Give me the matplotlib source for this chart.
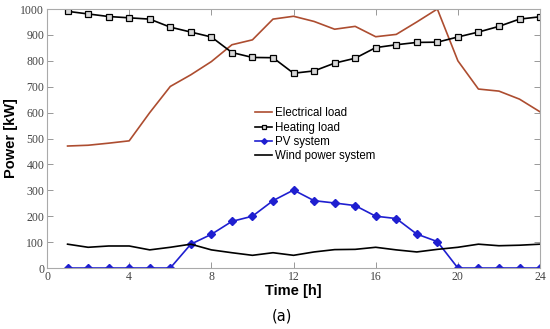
import matplotlib
matplotlib.use("Agg")
import matplotlib.pyplot as plt

# hourly data
hours = list(range(1, 25))
electrical_load = [471, 474, 482, 491, 600, 701, 746, 797, 862, 881, 961, 972,
                   952, 922, 933, 893, 902, 950, 1000, 800, 691, 683, 652, 603]
heating_load = [991, 981, 971, 966, 961, 930, 911, 892, 832, 813, 812, 752,
                761, 791, 810, 851, 862, 871, 872, 892, 911, 933, 961, 970]
pv_system = [0, 0, 0, 0, 0, 0, 92, 130, 180, 200, 260, 301,
             260, 251, 241, 200, 191, 131, 102, 0, 0, 0, 0, 0]
wind_power = [92, 80, 85, 85, 70, 80, 92, 70, 59, 49, 59, 49,
              62, 71, 72, 80, 70, 62, 72, 80, 92, 86, 88, 92]

x_ticks = [0, 4, 8, 12, 16, 20, 24]
y_ticks = list(range(0, 1001, 100))

fig = plt.figure(figsize=(5.5, 3.29), dpi=100)
ax = fig.add_axes([0.0855, 0.1854, 0.8964, 0.7872])

ax.plot(hours, electrical_load, color='#ad4d30', lw=1.2, label='Electrical load')
ax.plot(hours, heating_load, color='black', lw=1.2, marker='s', ms=4,
        mfc='#d8d8d8', mec='black', mew=0.9, label='Heating load')
ax.plot(hours, pv_system, color='#1f1fd0', lw=1.2, marker='D', ms=3.6,
        mfc='#1f1fd0', mec='#1f1fd0', label='PV system')
ax.plot(hours, wind_power, color='black', lw=1.2, label='Wind power system')

ax.set_xlim(0, 24)
ax.set_ylim(0, 1000)
ax.set_xticks(x_ticks)
ax.set_yticks(y_ticks)
ax.tick_params(direction='in', length=4, width=0.6, color='#888888',
               labelcolor='#444444', labelsize=8.5, pad=2,
               top=True, right=True)
for lbl in ax.get_xticklabels() + ax.get_yticklabels():
    lbl.set_family('Liberation Serif')
for s in ax.spines.values():
    s.set_color('#aaaaaa')
    s.set_linewidth(0.8)

ax.set_xlabel('Time [h]', fontsize=10.5, fontweight='bold', family='Liberation Sans', labelpad=1)
ax.set_ylabel('Power [kW]', fontsize=10.5, fontweight='bold', family='Liberation Sans', labelpad=2)

leg = ax.legend(loc='upper left', bbox_to_anchor=(0.422, 0.62), frameon=False,
                prop={'family': 'Liberation Sans', 'size': 8.3},
                handlelength=1.5, handletextpad=0.2, labelspacing=0.2,
                borderpad=0, borderaxespad=0, markerscale=0.8)

fig.text(0.513, 0.04, '(a)', fontsize=10.5, family='DejaVu Sans', ha='center', va='center')

fig.savefig('out.png', dpi=100)
